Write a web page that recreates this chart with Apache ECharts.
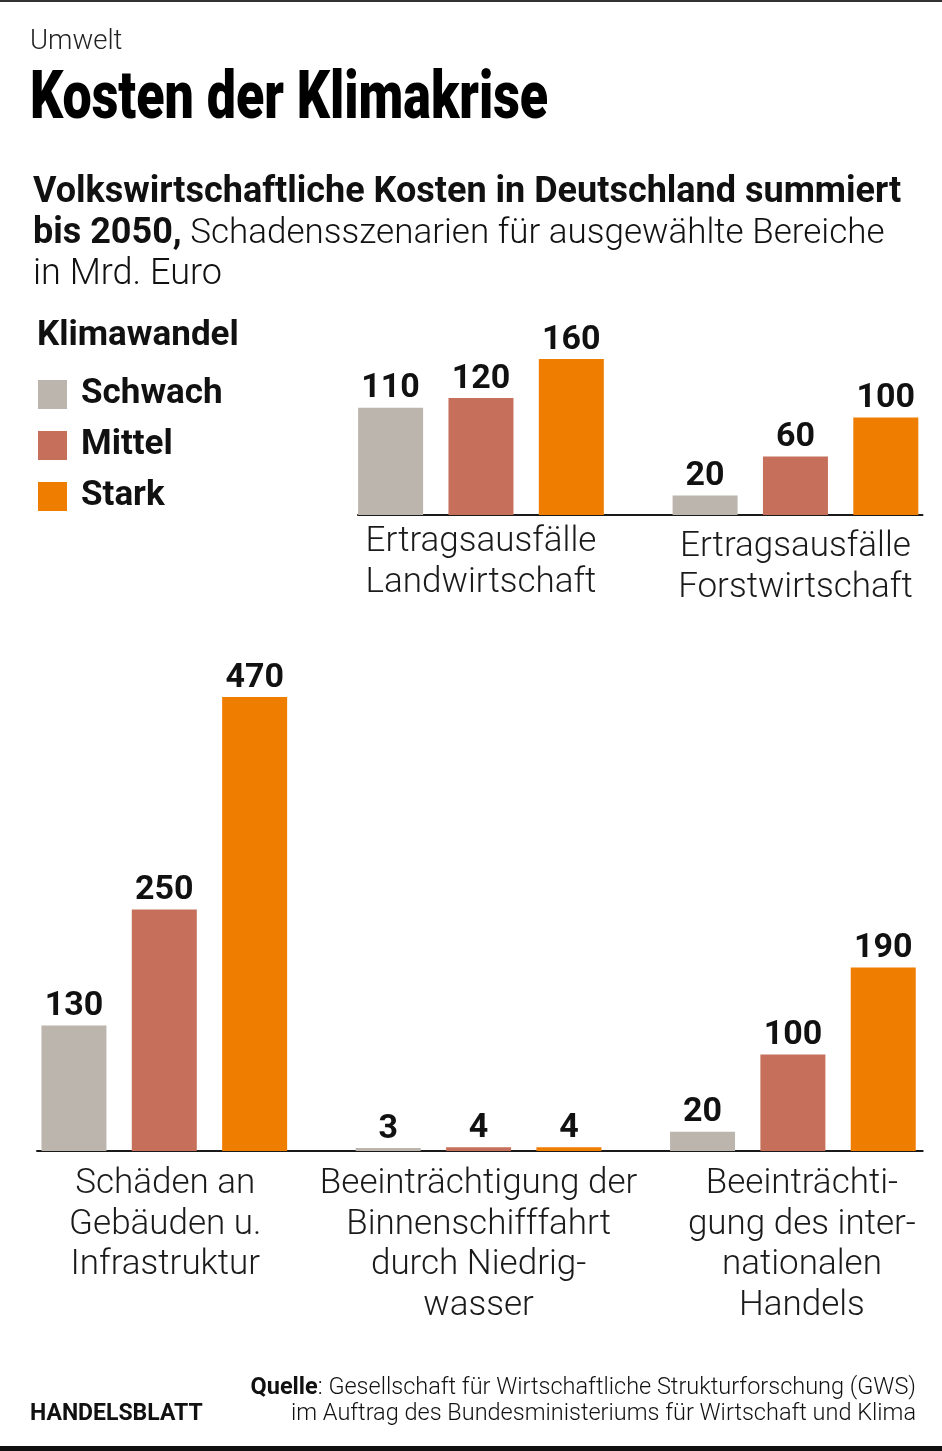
<!DOCTYPE html>
<html><head><meta charset="utf-8">
<script src="https://cdn.jsdelivr.net/npm/echarts@6/dist/echarts.min.js"></script>
<style>html,body{margin:0;padding:0;background:#fff}#c{width:942px;height:1451px}</style>
</head><body><div id="c"></div>
<script>
const seriesNames = ['Schwach', 'Mittel', 'Stark'];
const colors = ['#bcb5ad', '#c6705b', '#ef7d00'];

const topCategories = ['Ertragsausfälle\nLandwirtschaft', 'Ertragsausfälle\nForstwirtschaft'];
const topSchwach = [110, 20];
const topMittel = [120, 60];
const topStark = [160, 100];

const bottomCategories = [
  'Schäden an\nGebäuden u.\nInfrastruktur',
  'Beeinträchtigung der\nBinnenschifffahrt\ndurch Niedrig-\nwasser',
  'Beeinträchti-\ngung des inter-\nnationalen\nHandels'
];
const bottomSchwach = [130, 3, 20];
const bottomMittel = [250, 4, 100];
const bottomStark = [470, 4, 190];

const TXT = '#111';
const FONT = 'Roboto';
const LH = 40.5;

function pairs(arr) { return arr.map((v, i) => [i, v]); }
function makeSeries(g, arrs) {
  return arrs.map((arr, k) => ({
    type: 'bar', name: seriesNames[k], xAxisIndex: g, yAxisIndex: g,
    data: pairs(arr), barWidth: 65, barGap: '39%',
    itemStyle: { color: colors[k] },
    label: {
      show: true, position: 'top', distance: 2,
      formatter: p => p.value[1],
      fontFamily: FONT, fontWeight: 'bold', fontSize: 34, color: TXT
    },
    silent: true
  }));
}
// shifts: [dx, dy] per category label
function catAxis(g, cats, min, max, margin, shifts) {
  const rich = {};
  shifts.forEach((s, i) => {
    const dx = s[0], dy = s[1];
    const base = { fontFamily: FONT, fontWeight: 300, fontSize: 35, color: '#1a1a1a', align: 'center',
      padding: [0, dx < 0 ? -dx : 0, 0, dx > 0 ? dx : 0] };
    rich['f' + i] = Object.assign({}, base, { lineHeight: LH + 2 * dy });
    rich['r' + i] = Object.assign({}, base, { lineHeight: LH });
    rich['l' + i] = Object.assign({}, base, { lineHeight: LH - 2 * dy });
  });
  return {
    gridIndex: g, type: 'value', min: min, max: max,
    axisLine: { show: true, onZero: false, lineStyle: { color: '#1a1a1a', width: 2 } },
    axisTick: { show: false }, splitLine: { show: false },
    axisLabel: {
      customValues: cats.map((c, i) => i),
      formatter: v => {
        const i = Math.round(v);
        const lines = cats[i].split('\n');
        return lines.map((line, j) => {
          const st = j === 0 ? 'f' : (j === lines.length - 1 ? 'l' : 'r');
          return '{' + st + i + '|' + line + '}';
        }).join('\n');
      },
      rich: rich,
      fontFamily: FONT, fontWeight: 300, fontSize: 35, lineHeight: LH,
      color: '#1a1a1a', margin: margin, align: 'center'
    }
  };
}
function valAxis(g, max) {
  return { gridIndex: g, type: 'value', min: 0, max: max, show: false };
}

const chart = echarts.init(document.getElementById('c'), null, { renderer: 'canvas' });
chart.setOption({
  animation: false,
  backgroundColor: '#fff',
  grid: [
    { left: 358, top: 359, width: 564.5, height: 156 },
    { left: 37, top: 697, width: 885.7, height: 454 }
  ],
  xAxis: [
    catAxis(0, topCategories, -0.391, 1.404, 7, [[0, 0], [0, 5]]),
    catAxis(1, bottomCategories, -0.405, 2.413, 13, [[2, 0], [0, 0], [18, 0]])
  ],
  yAxis: [valAxis(0, 160), valAxis(1, 470)],
  legend: {
    orient: 'vertical', left: 38, top: 377, padding: 0, itemWidth: 29, itemHeight: 29, itemGap: 16,
    icon: 'rect', selectedMode: false, data: seriesNames,
    textStyle: { fontFamily: FONT, fontWeight: 'bold', fontSize: 35, color: TXT, padding: [0, 0, 0, 9] }
  },
  series: makeSeries(0, [topSchwach, topMittel, topStark]).concat(
          makeSeries(1, [bottomSchwach, bottomMittel, bottomStark])),
  graphic: [
    { type: 'rect', shape: { x: 0, y: 0, width: 942, height: 2 }, style: { fill: '#333' } },
    { type: 'rect', shape: { x: 0, y: 1446, width: 942, height: 5 }, style: { fill: '#111' } },
    { type: 'text', x: 30, y: 42, style: { text: 'Umwelt', font: '300 27.5px Roboto', fill: '#222', textVerticalAlign: 'middle' } },
    { type: 'text', x: 30, y: 101, scaleX: 0.775, style: { text: 'Kosten der Klimakrise', font: '900 67px Roboto', fill: '#000', textVerticalAlign: 'middle' } },
    { type: 'text', x: 33, y: 193, style: { text: 'Volkswirtschaftliche Kosten in Deutschland summiert', font: 'bold 36px Roboto', fill: TXT, textVerticalAlign: 'middle' } },
    { type: 'text', x: 33, y: 234, style: { text: '{b|bis 2050,}{n| Schadensszenarien für ausgewählte Bereiche}', fill: TXT, textVerticalAlign: 'middle',
        rich: { b: { fontFamily: FONT, fontWeight: 'bold', fontSize: 36, fill: TXT }, n: { fontFamily: FONT, fontWeight: 300, fontSize: 35, fill: TXT } } } },
    { type: 'text', x: 33, y: 275, style: { text: 'in Mrd. Euro', font: '300 36px Roboto', fill: TXT, textVerticalAlign: 'middle' } },
    { type: 'text', x: 37, y: 336, style: { text: 'Klimawandel', font: 'bold 35px Roboto', fill: TXT, textVerticalAlign: 'middle' } },
    { type: 'text', x: 30, y: 1414, style: { text: 'HANDELSBLATT', font: 'bold 23px Roboto', fill: TXT, textVerticalAlign: 'middle' } },
    { type: 'text', x: 916, y: 1388, style: { text: '{b|Quelle}: Gesellschaft für Wirtschaftliche Strukturforschung (GWS)', textAlign: 'right', textVerticalAlign: 'middle', fill: TXT,
        rich: { b: { fontFamily: FONT, fontWeight: 'bold', fontSize: 23.5, fill: TXT } }, font: '300 23.5px Roboto' } },
    { type: 'text', x: 916, y: 1414, style: { text: 'im Auftrag des Bundesministeriums für Wirtschaft und Klima', font: '300 23.5px Roboto', fill: TXT, textAlign: 'right', textVerticalAlign: 'middle' } }
  ]
});
</script></body></html>
